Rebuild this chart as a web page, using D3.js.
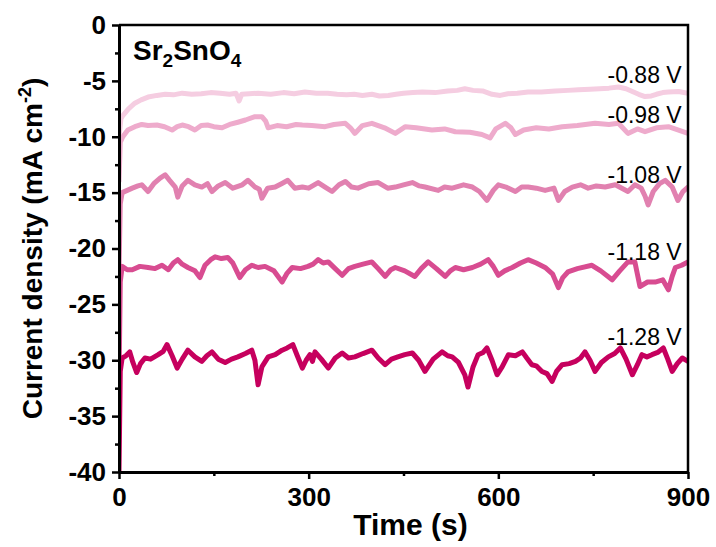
<!DOCTYPE html>
<html>
<head>
<meta charset="utf-8">
<script src="https://cdn.jsdelivr.net/npm/d3@7"></script>
<style>
  html, body { margin: 0; padding: 0; background: #fff; }
  svg { display: block; font-family: "Liberation Sans", Arial, sans-serif; }
</style>
</head>
<body>
<div id="chart"></div>
<script>
// chronoamperometry traces, [time (s), current density (mA cm-2)]
const s088 = [[0,-10],[3,-8.4],[6,-8.1],[15,-7.5],[25,-7.0],[35,-6.7],[46,-6.45],[60,-6.3],[73,-6.2],[86,-6.25],[100,-6.1],[115,-6.2],[130,-6.15],[145,-6.05],[160,-6.1],[175,-6.2],[185,-6.1],[190,-6.8],[194,-6.2],[206,-6.15],[220,-6.1],[240,-6.2],[260,-6.05],[277,-6.15],[294,-6.0],[312,-6.1],[330,-6.1],[345,-6.2],[360,-6.25],[372,-6.2],[385,-6.3],[400,-6.2],[412,-6.35],[426,-6.3],[438,-6.2],[450,-6.1],[465,-6.05],[480,-6.0],[500,-6.05],[520,-5.9],[535,-5.85],[547,-5.7],[560,-5.85],[575,-5.9],[590,-6.2],[603,-6.3],[615,-6.15],[630,-6.1],[647,-6.0],[668,-6.0],[690,-5.9],[710,-5.85],[727,-5.8],[745,-5.75],[760,-5.7],[775,-5.65],[790,-5.55],[802,-5.7],[812,-5.95],[822,-6.2],[832,-6.4],[842,-6.35],[850,-6.2],[860,-6.05],[869,-6.0],[885,-5.95],[900,-6.1]];
const s098 = [[0,-14],[2,-10.5],[6,-10.0],[14,-9.4],[25,-9.1],[36,-8.9],[46,-9.0],[60,-8.95],[72,-9.1],[84,-9.4],[92,-9.1],[100,-8.95],[110,-9.1],[120,-9.4],[130,-9.0],[140,-8.95],[150,-9.1],[163,-9.2],[175,-8.9],[188,-8.7],[200,-8.5],[215,-8.2],[226,-8.2],[232,-8.6],[236,-9.2],[250,-9.0],[265,-9.1],[280,-8.9],[290,-8.95],[305,-9.0],[326,-9.1],[340,-8.9],[358,-8.8],[366,-9.2],[373,-9.7],[385,-9.0],[400,-8.8],[420,-9.2],[437,-9.7],[453,-9.1],[470,-9.2],[495,-9.4],[515,-9.3],[532,-9.55],[555,-9.6],[574,-9.8],[587,-10.1],[596,-9.3],[611,-8.8],[620,-9.2],[627,-9.8],[640,-9.4],[660,-9.2],[680,-9.3],[701,-9.1],[725,-9.0],[753,-8.8],[775,-8.9],[790,-8.8],[805,-9.7],[820,-9.3],[832,-9.55],[850,-9.2],[869,-9.1],[885,-9.4],[900,-9.7]];
const s108 = [[0,-22],[2,-16],[5,-15.0],[13,-14.8],[21,-14.6],[30,-14.4],[36,-14.3],[46,-14.9],[55,-14.2],[65,-13.7],[73,-13.4],[80,-13.9],[89,-14.5],[93,-15.4],[100,-14.4],[109,-13.9],[120,-14.3],[131,-14.5],[140,-14.2],[147,-14.9],[157,-14.4],[168,-14.1],[180,-14.6],[195,-14.3],[204,-13.9],[215,-14.5],[222,-14.7],[226,-15.5],[235,-14.6],[247,-14.5],[257,-14.2],[267,-13.9],[278,-14.6],[290,-14.5],[300,-14.6],[315,-14.1],[326,-14.5],[337,-14.9],[348,-14.3],[358,-14.0],[368,-14.5],[378,-14.6],[395,-14.2],[410,-14.1],[425,-14.6],[437,-14.5],[450,-14.3],[464,-14.1],[475,-14.4],[484,-14.5],[505,-14.8],[515,-14.5],[527,-14.6],[545,-14.3],[559,-14.5],[570,-14.9],[582,-15.7],[592,-14.8],[600,-14.3],[612,-14.5],[627,-14.9],[637,-14.5],[647,-14.5],[660,-14.6],[674,-14.8],[688,-14.6],[695,-15.7],[705,-14.9],[717,-14.5],[730,-14.3],[742,-14.6],[755,-14.4],[769,-14.5],[785,-14.3],[805,-14.9],[816,-14.3],[826,-14.6],[832,-15.3],[837,-16.1],[845,-14.9],[855,-14.2],[864,-13.9],[875,-14.5],[884,-15.7],[892,-14.9],[900,-14.5]];
const s118 = [[0,-32],[2,-23],[5,-21.6],[13,-21.9],[21,-21.9],[33,-21.6],[46,-21.7],[57,-21.8],[68,-21.5],[78,-21.9],[86,-21.3],[93,-21.0],[100,-21.4],[109,-21.7],[120,-22.0],[128,-22.6],[136,-21.5],[145,-21.0],[152,-20.75],[162,-20.9],[172,-20.8],[180,-21.3],[186,-22.0],[191,-22.6],[200,-21.9],[210,-21.5],[220,-21.7],[231,-21.6],[245,-22.0],[258,-23.0],[266,-22.2],[274,-21.7],[287,-21.8],[299,-21.6],[307,-21.4],[315,-21.0],[323,-21.3],[331,-21.2],[342,-21.8],[353,-22.4],[363,-21.8],[373,-21.6],[386,-21.4],[400,-21.2],[410,-21.8],[421,-22.5],[430,-21.9],[437,-21.7],[452,-22.0],[468,-22.5],[478,-21.8],[489,-21.2],[502,-21.8],[516,-22.5],[524,-22.0],[532,-21.7],[545,-21.9],[559,-21.7],[572,-21.4],[584,-21.0],[592,-21.6],[600,-22.4],[610,-22.0],[622,-21.7],[635,-21.3],[647,-21.0],[660,-21.3],[674,-21.7],[686,-22.3],[695,-23.5],[702,-22.6],[710,-22.1],[725,-21.8],[748,-21.5],[762,-22.0],[780,-22.8],[792,-22.0],[805,-21.2],[816,-21.2],[820,-22.3],[824,-23.4],[836,-23.0],[848,-23.0],[860,-22.8],[869,-23.7],[875,-22.5],[880,-21.7],[890,-21.5],[900,-21.2]];
const s128 = [[0,-40],[2,-31],[5,-29.8],[11,-29.6],[17,-29.25],[22,-30.2],[28,-31.1],[34,-30.3],[41,-29.8],[50,-29.9],[62,-29.5],[70,-29.2],[76,-28.6],[84,-29.6],[92,-30.7],[100,-29.9],[109,-29.1],[120,-29.7],[131,-30.1],[139,-29.6],[147,-29.25],[157,-29.9],[168,-30.2],[178,-29.9],[188,-29.7],[200,-29.4],[210,-29.1],[215,-30.0],[220,-32.2],[226,-30.6],[236,-29.7],[247,-29.5],[258,-29.1],[266,-28.9],[275,-28.6],[282,-29.6],[290,-30.7],[296,-30.0],[302,-29.5],[306,-30.1],[310,-29.25],[320,-29.9],[331,-30.7],[342,-29.8],[353,-29.35],[363,-29.8],[373,-29.7],[386,-29.4],[400,-29.1],[410,-29.8],[421,-30.4],[431,-29.9],[441,-29.7],[452,-29.5],[464,-29.35],[474,-30.0],[484,-31.0],[497,-29.9],[511,-29.25],[520,-29.6],[527,-29.7],[537,-30.2],[547,-31.3],[552,-32.4],[560,-30.6],[568,-29.5],[576,-29.3],[582,-28.9],[590,-30.0],[598,-31.3],[606,-30.6],[616,-29.5],[627,-29.6],[638,-29.25],[645,-29.8],[653,-30.4],[660,-30.5],[669,-31.0],[677,-31.2],[685,-31.9],[692,-31.0],[701,-30.4],[712,-30.3],[722,-30.1],[730,-29.8],[737,-29.25],[745,-30.0],[753,-31.0],[763,-30.2],[774,-29.7],[784,-29.4],[793,-28.9],[802,-29.9],[812,-31.3],[820,-30.4],[827,-29.5],[835,-29.7],[843,-29.5],[852,-29.3],[861,-28.9],[868,-29.9],[875,-31.0],[883,-30.3],[891,-29.8],[900,-30.1]];

const potentials = ["-0.88 V", "-0.98 V", "-1.08 V", "-1.18 V", "-1.28 V"];
const traces = [s088, s098, s108, s118, s128];
const colors = ["#f5cde1", "#eeabcc", "#e181b0", "#d84c91", "#c6005e"];
// where each potential label sits (value on the y axis)
const labelY = [-5.2, -8.8, -14.1, -21.0, -28.6];

const xTicks = [0, 300, 600, 900];
const xMinor = [150, 450, 750];
const yTicks = [0, -5, -10, -15, -20, -25, -30, -35, -40];
const yMinor = [-2.5, -7.5, -12.5, -17.5, -22.5, -27.5, -32.5, -37.5];

const W = 716, H = 547;
const m = { left: 119, right: 688, top: 25, bottom: 472 };

const svg = d3.select("#chart").append("svg")
  .attr("width", W).attr("height", H);

const x = d3.scaleLinear().domain([0, 900]).range([m.left, m.right]);
const y = d3.scaleLinear().domain([-40, 0]).range([m.bottom, m.top]);

// traces
const line = d3.line().x(d => x(d[0])).y(d => y(d[1]));
svg.append("defs").append("clipPath").attr("id", "plot")
  .append("rect").attr("x", m.left).attr("y", m.top)
  .attr("width", m.right - m.left).attr("height", m.bottom - m.top);

svg.append("g").attr("clip-path", "url(#plot)")
  .selectAll("path")
  .data(traces)
  .join("path")
    .attr("d", line)
    .attr("fill", "none")
    .attr("stroke", (d, i) => colors[i])
    .attr("stroke-width", 5)
    .attr("stroke-linejoin", "round")
    .attr("stroke-linecap", "round");

// box top/right
svg.append("path")
  .attr("d", `M${m.left},${m.top}H${m.right}V${m.bottom}`)
  .attr("fill", "none").attr("stroke", "#000").attr("stroke-width", 2.5);

// axes
const fmt = d => String(d);
svg.append("g").attr("transform", `translate(0,${m.bottom})`)
  .call(d3.axisBottom(x).tickValues(xTicks).tickFormat(fmt).tickSize(7).tickPadding(9).tickSizeOuter(0));
svg.append("g").attr("transform", `translate(0,${m.bottom})`)
  .call(d3.axisBottom(x).tickValues(xMinor).tickFormat("").tickSize(4).tickSizeOuter(0))
  .call(g => g.select(".domain").remove());

svg.append("g").attr("transform", `translate(${m.left},0)`)
  .call(d3.axisLeft(y).tickValues(yTicks).tickFormat(fmt).tickSize(7).tickPadding(6).tickSizeOuter(0));
svg.append("g").attr("transform", `translate(${m.left},0)`)
  .call(d3.axisLeft(y).tickValues(yMinor).tickFormat("").tickSize(4).tickSizeOuter(0))
  .call(g => g.select(".domain").remove());

svg.selectAll(".domain").attr("stroke", "#000").attr("stroke-width", 3);
svg.selectAll(".tick line").attr("stroke", "#000").attr("stroke-width", 2.5);
svg.selectAll(".tick text")
  .attr("fill", "#000")
  .style("font-family", "'Liberation Sans', Arial, sans-serif")
  .style("font-size", "26px").style("font-weight", "bold");

// axis titles
svg.append("text")
  .attr("x", (m.left + m.right) / 2 + 7).attr("y", 535)
  .attr("text-anchor", "middle")
  .style("font-size", "30px").style("font-weight", "bold")
  .text("Time (s)");

const yl = svg.append("text")
  .attr("transform", `translate(42,${(m.top + m.bottom) / 2}) rotate(-90)`)
  .attr("text-anchor", "middle")
  .style("font-size", "28px").style("font-weight", "bold");
yl.append("tspan").text("Current density (mA cm");
yl.append("tspan").attr("dy", -11).style("font-size", "18px").text("-2");
yl.append("tspan").attr("dy", 11).text(")");

// compound label
const comp = svg.append("text")
  .attr("x", 133).attr("y", 60)
  .style("font-size", "28px").style("font-weight", "bold");
comp.append("tspan").text("Sr");
comp.append("tspan").attr("dy", 7).style("font-size", "19px").text("2");
comp.append("tspan").attr("dy", -7).text("SnO");
comp.append("tspan").attr("dy", 7).style("font-size", "19px").text("4");

// potential labels
svg.append("g").selectAll("text")
  .data(potentials)
  .join("text")
    .attr("x", x(890))
    .attr("y", (d, i) => y(labelY[i]))
    .attr("text-anchor", "end")
    .style("font-size", "23px")
    .text(d => d);
</script>
</body>
</html>
